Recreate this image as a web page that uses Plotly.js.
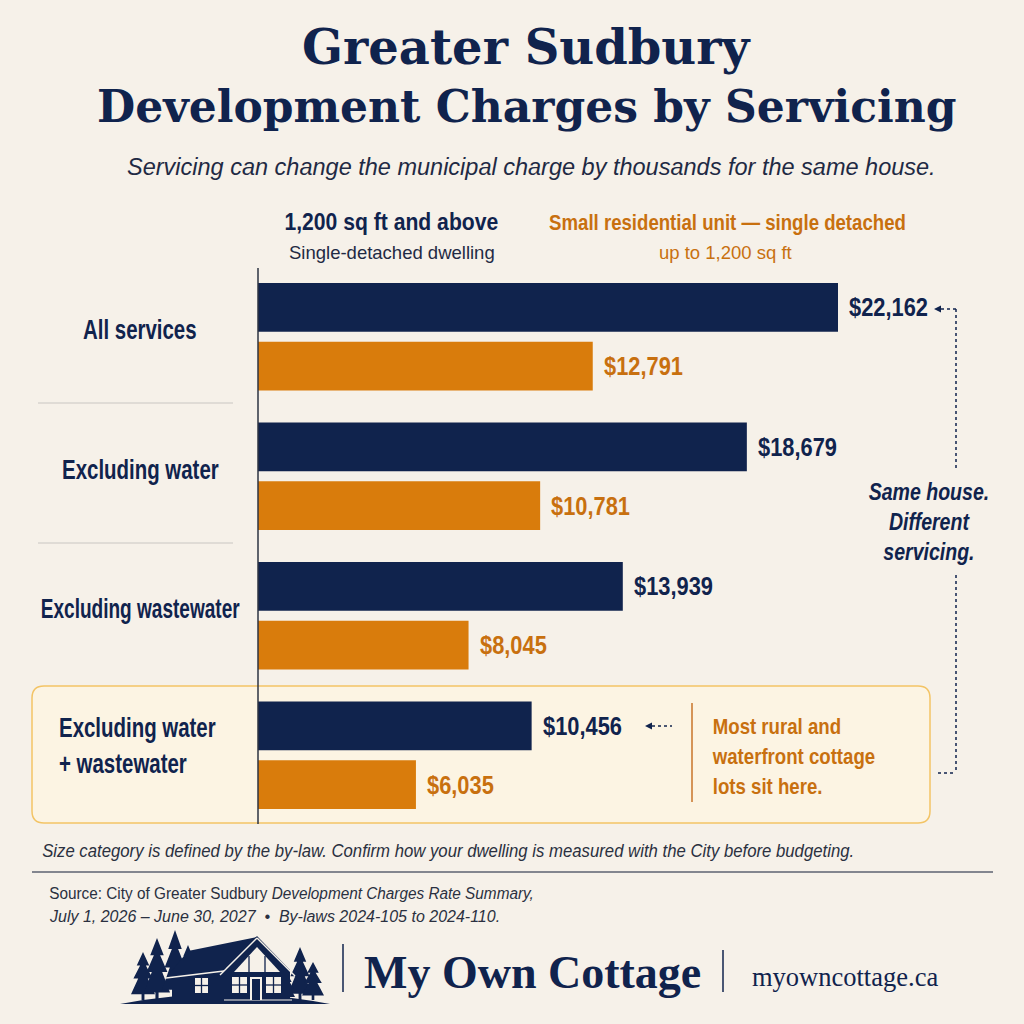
<!DOCTYPE html>
<html>
<head>
<meta charset="utf-8">
<script src="https://cdn.plot.ly/plotly-3.0.1.min.js"></script>
<style>
  html, body { margin: 0; padding: 0; background: #f6f1e9; }
  #graph { width: 1024px; height: 1024px; }
</style>
</head>
<body>
<div id="graph"></div>
<script>
// Greater Sudbury development charges by servicing, drawn with Plotly.

const categories = ["All services", "Excluding water", "Excluding wastewater", "Excluding water + wastewater"];
const categoryLabels = ["All services", "Excluding water", "Excluding wastewater", "Excluding water<br>+ wastewater"];
const largeDwelling = [22162, 18679, 13939, 10456];
const smallUnit = [12791, 10781, 8045, 6035];
const seriesNames = ["1,200 sq ft and above", "Small residential unit \u2014 single detached"];
const seriesSubtitles = ["Single-detached dwelling", "up to 1,200 sq ft"];

const NAVY = "#10234d";
const ORANGE = "#d97c0c";
const ORANGE_TEXT = "#c8700f";
const BG = "#f6f1e9";
const SANS = "Liberation Sans, Arial, sans-serif";
const SERIF = "DejaVu Serif, serif";
const BRAND_SERIF = "Liberation Serif, Times New Roman, serif";

// plot area in pixels (must match margins below)
const L = 258, R = 1014, T = 267, B = 825;
const px = (x) => (x - L) / (R - L);
const py = (y) => (B - y) / (B - T);

function pathFrom(points) {
  return points.map((p, i) => (i === 0 ? "M" : "L") + px(p[0]) + "," + py(p[1])).join(" ") + " Z";
}

function roundRect(x0, y0, x1, y1, r) {
  const P = (x, y) => px(x) + "," + py(y);
  return "M" + P(x0 + r, y0) + " L" + P(x1 - r, y0) + " Q" + P(x1, y0) + " " + P(x1, y0 + r) +
    " L" + P(x1, y1 - r) + " Q" + P(x1, y1) + " " + P(x1 - r, y1) +
    " L" + P(x0 + r, y1) + " Q" + P(x0, y1) + " " + P(x0, y1 - r) +
    " L" + P(x0, y0 + r) + " Q" + P(x0, y0) + " " + P(x0 + r, y0) + " Z";
}

function pline(x0, y0, x1, y1, color, width, dash) {
  return {
    type: "line", xref: "paper", yref: "paper", layer: "above",
    x0: px(x0), y0: py(y0), x1: px(x1), y1: py(y1),
    line: { color: color, width: width, dash: dash || "solid" },
  };
}

function pfill(path, color) {
  return { type: "path", xref: "paper", yref: "paper", path: path, fillcolor: color, line: { width: 0 }, layer: "above" };
}

function prect(x0, y0, x1, y1, color) {
  return { type: "rect", xref: "paper", yref: "paper", x0: px(x0), x1: px(x1), y0: py(y1), y1: py(y0),
    fillcolor: color, line: { width: 0 }, layer: "above" };
}

function tree(cx, top, bottom, w) {
  const h = bottom - top;
  const pts = [
    [cx, top],
    [cx + w * 0.26, top + h * 0.28], [cx + w * 0.12, top + h * 0.28],
    [cx + w * 0.4, top + h * 0.55], [cx + w * 0.2, top + h * 0.55],
    [cx + w * 0.5, top + h * 0.88], [cx + w * 0.06, top + h * 0.88],
    [cx + w * 0.06, bottom], [cx - w * 0.06, bottom],
    [cx - w * 0.06, top + h * 0.88], [cx - w * 0.5, top + h * 0.88],
    [cx - w * 0.2, top + h * 0.55], [cx - w * 0.4, top + h * 0.55],
    [cx - w * 0.12, top + h * 0.28], [cx - w * 0.26, top + h * 0.28],
  ];
  return pfill(pathFrom(pts), NAVY);
}

// horizontal squeeze for each annotation (the reference uses a condensed face)
const squeeze = [];

// squeeze the annotation texts horizontally around their anchor
function condense(gd) {
  gd.querySelectorAll(".annotation").forEach((g) => {
    const i = Number(g.getAttribute("data-index"));
    const s = squeeze[i];
    if (!s || s === 1) return;
    const t = g.querySelector("text");
    const a = gd.layout.annotations[i];
    t.style.transformBox = "fill-box";
    t.style.transformOrigin = a.xanchor === "left" ? "left center" : "center center";
    t.style.transform = "scaleX(" + s + ")";
  });
}

function newGraph() {
  const traceLarge = {
    type: "bar", orientation: "h",
    y: categories, x: largeDwelling,
    name: seriesNames[0],
    marker: { color: NAVY },
    hoverinfo: "none",
  };
  const traceSmall = {
    type: "bar", orientation: "h",
    y: categories, x: smallUnit,
    name: seriesNames[1],
    marker: { color: ORANGE },
    hoverinfo: "none",
  };

  const annotations = [];
  const add = (ann, s) => { annotations.push(ann); squeeze.push(s || 1); };
  const note = (x, y, text, family, size, color, opts) => Object.assign({
    xref: "paper", yref: "paper", x: px(x), y: py(y), text: text, showarrow: false,
    font: { family: family, size: size, color: color },
    xanchor: "center", yanchor: "middle",
  }, opts || {});

  // title block
  add(note(527, 47, "<b>Greater Sudbury</b>", SERIF, 48, NAVY));
  add(note(526, 107, "<b>Development Charges by Servicing</b>", SERIF, 44, NAVY));
  add(note(531, 167, "<i>Servicing can change the municipal charge by thousands for the same house.</i>", SANS, 23.5, "#1f2a44"));

  // series headers
  add(note(391, 222, "<b>" + seriesNames[0] + "</b>", SANS, 23, NAVY), 0.92);
  add(note(392, 252, seriesSubtitles[0], SANS, 18.5, "#1f2a44"));
  add(note(727, 222, "<b>" + seriesNames[1] + "</b>", SANS, 23, ORANGE_TEXT), 0.81);
  add(note(725, 252, seriesSubtitles[1], SANS, 18.5, ORANGE_TEXT));

  // category labels
  categories.forEach((c, i) => {
    const last = i === categories.length - 1;
    add({
      xref: "paper", yref: "y", x: last ? px(57) : px(140), y: c, yshift: last ? 10 : 7,
      text: "<b>" + categoryLabels[i] + "</b>", showarrow: false,
      xanchor: last ? "left" : "center", yanchor: "middle", align: "left",
      font: { family: SANS, size: 28, color: NAVY },
    }, i === 2 ? 0.68 : 0.73);
  });

  // value labels
  categories.forEach((c, i) => {
    add({
      xref: "x", yref: "y", x: largeDwelling[i], y: c, xshift: 9, yshift: 29.5,
      text: "<b>$" + largeDwelling[i].toLocaleString("en-US") + "</b>", showarrow: false,
      xanchor: "left", yanchor: "middle",
      font: { family: SANS, size: 26, color: NAVY },
    }, 0.84);
    add({
      xref: "x", yref: "y", x: smallUnit[i], y: c, xshift: 9, yshift: -29.5,
      text: "<b>$" + smallUnit[i].toLocaleString("en-US") + "</b>", showarrow: false,
      xanchor: "left", yanchor: "middle",
      font: { family: SANS, size: 26, color: ORANGE_TEXT },
    }, 0.84);
  });

  // side notes
  add(note(929, 522, "<i><b>Same house.<br>Different<br>servicing.</b></i>", SANS, 23, NAVY), 0.85);
  add(note(710, 756, "<b>Most rural and<br>waterfront cottage<br>lots sit here.</b>", SANS, 23, ORANGE_TEXT,
    { xanchor: "left", align: "left" }), 0.81);

  // footnotes
  add(note(40, 851, "<i>Size category is defined by the by-law. Confirm how your dwelling is measured with the City before budgeting.</i>",
    SANS, 18, "#2a3040", { xanchor: "left" }), 0.93);
  add(note(47, 893, "Source: City of Greater Sudbury <i>Development Charges Rate Summary,</i>", SANS, 16.5, "#2a3040",
    { xanchor: "left" }), 0.93);
  add(note(47, 916, "<i>July 1, 2026 \u2013 June 30, 2027  \u2022  By-laws 2024-105 to 2024-110.</i>", SANS, 16.5, "#2a3040",
    { xanchor: "left" }), 0.97);

  // brand
  add(note(532, 972, "<b>My Own Cottage</b>", BRAND_SERIF, 46, NAVY));
  add(note(845, 977, "myowncottage.ca", BRAND_SERIF, 26.5, NAVY));

  const shapes = [];
  // highlight box for the last category
  shapes.push({ type: "path", xref: "paper", yref: "paper", layer: "below", path: roundRect(32, 686, 930, 823, 12),
    fillcolor: "#fcf4e3", line: { color: "#f3c466", width: 1.5 } });
  // separators
  shapes.push(pline(38, 403, 233, 403, "#c9c6c2", 1));
  shapes.push(pline(38, 543, 233, 543, "#c9c6c2", 1));
  // axis line
  shapes.push(pline(258, 268, 258, 824, "#2d3342", 1.5));
  // bracket on the right
  shapes.push(pline(941, 309, 956, 309, NAVY, 1.5, "dot"));
  shapes.push(pline(956, 309, 956, 470, NAVY, 1.5, "dot"));
  shapes.push(pline(956, 575, 956, 773, NAVY, 1.5, "dot"));
  shapes.push(pline(938, 773, 956, 773, NAVY, 1.5, "dot"));
  shapes.push(pfill(pathFrom([[934, 309], [941, 305.5], [941, 312.5]]), NAVY));
  // pointer to $10,456
  shapes.push(pline(652, 726, 672, 726, NAVY, 1.5, "dot"));
  shapes.push(pfill(pathFrom([[645, 726], [652, 722.5], [652, 729.5]]), NAVY));
  shapes.push(pline(692, 703, 692, 802, "#c9752a", 1.5));
  // rule
  shapes.push(pline(32, 872, 993, 872, "#5d6270", 1.5));
  // brand dividers
  shapes.push(pline(343, 944, 343, 992, NAVY, 1.5));
  shapes.push(pline(723, 950, 723, 992, NAVY, 1.5));

  // logo: trees, cottage and ground
  [[143, 952, 1000, 24], [157, 938, 1000, 26], [175, 930, 998, 26], [188, 945, 985, 18],
   [300, 947, 1000, 24], [313, 962, 1000, 22], [288, 975, 1000, 14]].forEach((t) => shapes.push(tree(t[0], t[1], t[2], t[3])));
  shapes.push(pfill("M" + px(120) + "," + py(1004) + " Q" + px(225) + "," + py(984) + " " + px(330) + "," + py(1004) + " Z", NAVY));
  // wing body and roof
  shapes.push(pfill(pathFrom([[172, 975], [226, 975], [226, 1000], [172, 1000]]), NAVY));
  shapes.push(pfill(pathFrom([[166, 978], [188, 951], [257, 937], [226, 968], [226, 975]]), NAVY));
  shapes.push(pline(166, 978, 224, 971, BG, 1.3));
  // gable
  shapes.push(pfill(pathFrom([[226, 1000], [226, 968], [257, 936], [290, 970], [290, 1000]]), NAVY));
  shapes.push(pline(220, 975, 257, 938, BG, 1.5));
  shapes.push(pline(257, 938, 295, 976, BG, 1.5));
  shapes.push(pline(224, 1000, 292, 1000, BG, 1.2));
  // gable top window
  shapes.push(pfill(pathFrom([[234, 972], [257, 947], [280, 972]]), BG));
  shapes.push(pline(249, 956, 249, 972, NAVY, 1.3));
  shapes.push(pline(265, 956, 265, 972, NAVY, 1.3));
  // windows and door
  [[195, 978, 208, 993], [232, 977, 247, 993], [266, 977, 281, 993]].forEach((w) => {
    shapes.push(prect(w[0], w[1], w[2], w[3], BG));
    shapes.push(pline((w[0] + w[2]) / 2, w[1], (w[0] + w[2]) / 2, w[3], NAVY, 1.3));
    shapes.push(pline(w[0], (w[1] + w[3]) / 2, w[2], (w[1] + w[3]) / 2, NAVY, 1.3));
  });
  shapes.push(prect(250, 977, 262, 1000, BG));
  shapes.push(prect(252, 979, 260, 1000, NAVY));

  const layout = {
    width: 1024, height: 1024,
    paper_bgcolor: BG, plot_bgcolor: "rgba(0,0,0,0)",
    margin: { l: L, r: 1024 - R, t: T, b: 1024 - B, pad: 0 },
    barmode: "group", bargap: 0.157, bargroupgap: 0.17,
    showlegend: false,
    xaxis: { range: [0, (R - L) / (580 / 22162)], visible: false, fixedrange: true },
    yaxis: { categoryorder: "array", categoryarray: categories, autorange: "reversed", visible: false, fixedrange: true },
    annotations: annotations,
    shapes: shapes,
  };

  Plotly.newPlot("graph", [traceLarge, traceSmall], layout, { displayModeBar: false, staticPlot: true })
    .then(condense);
}

newGraph();
</script>
</body>
</html>
